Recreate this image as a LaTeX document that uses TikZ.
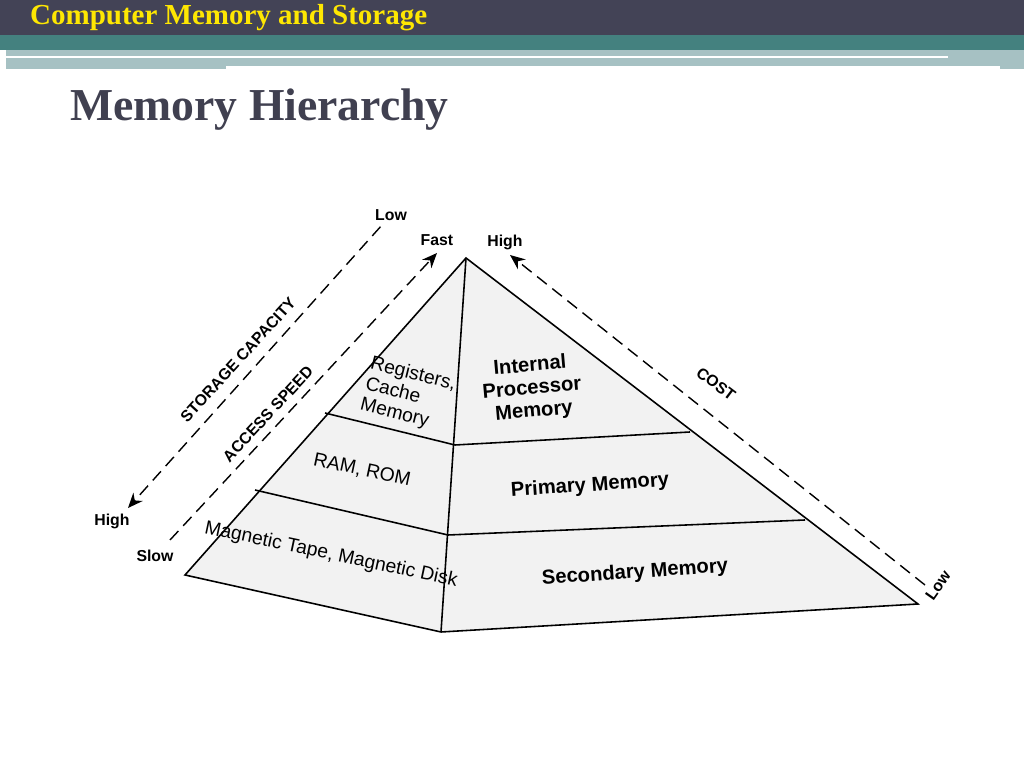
\documentclass[tikz,border=0pt]{standalone}
\usepackage{fontspec}
\setmainfont{Liberation Serif}
\newfontfamily\labelfont{Liberation Sans}
\usetikzlibrary{positioning}
\usetikzlibrary{arrows.meta}
\tikzset{>={Stealth[width=2.5mm,length=3mm]}}
\definecolor{headbar}{HTML}{434356}
\definecolor{bandteal}{HTML}{44817F}
\definecolor{paleteal}{HTML}{A6C1C3}
\definecolor{titlegray}{HTML}{404050}
\tikzset{
  face/.style={draw, line width=0.9pt, fill=gray!10},
  tier/.style={line width=0.9pt},
  guide/.style={dash pattern=on 7pt off 4pt, line width=0.8pt},
  lbl/.style={font=\labelfont\bfseries\small},
  tierlbl/.style={font=\labelfont\fontsize{11}{12}\selectfont, align=center, inner sep=1pt},
  tierbold/.style={tierlbl, font=\labelfont\bfseries\fontsize{11.5}{13}\selectfont}
}
\begin{document}
\begin{tikzpicture}[x=0.2mm,y=-0.2mm]
\useasboundingbox (0,0) rectangle (1024,768);
% header
\fill[headbar] (0,0) rectangle (1024,35);
\fill[bandteal] (0,35) rectangle (1024,50);
\fill[paleteal] (6,50) rectangle (1024,69);
\fill[white] (6,56) rectangle (948,58);
\fill[white] (226,66) rectangle (1000,69);
\node (head) [anchor=west, text=yellow!90!orange, font=\bfseries\fontsize{16.5}{19}\selectfont] at (24,18) {Computer Memory and Storage};
\node (title) [anchor=west, text=titlegray, font=\bfseries\fontsize{26}{31}\selectfont] at (64,110) {Memory Hierarchy};

% pyramid
\coordinate (apex) at (466,258);
\coordinate (L) at (185,575);
\coordinate (B) at (441,632);
\coordinate (R) at (918,604);
\coordinate (m1) at (455,445);
\coordinate (m2) at (448,535);
\coordinate (l1) at (325,413);
\coordinate (l2) at (255,490);
\coordinate (r1) at (690,432);
\coordinate (r2) at (805,520);
\path [face] (apex) -- (L) -- (B) -- (R) -- cycle;
\draw [tier] (apex) -- (B);
\draw [tier] (l1) -- (m1) -- (r1);
\draw [tier] (l2) -- (m2) -- (r2);

\node (reg) [tierlbl, rotate=-14, align=left] at (408,395) {Registers,\\Cache\\Memory};
\node (ram) [tierlbl, rotate=-12] at (362,470) {RAM, ROM};
\node (tape) [tierlbl, rotate=-12] at (331,555) {Magnetic Tape, Magnetic Disk};
\node (ipm) [tierbold, rotate=5] at (532,389) {Internal\\Processor\\Memory};
\node (prim) [tierbold, rotate=4] at (590,486) {Primary Memory};
\node (sec) [tierbold, rotate=4] at (635,573) {Secondary Memory};

% guides
\node (capLow) [lbl] at (391,215) {Low};
\node (capHigh) [lbl] at (112,521) {High};
\node (spdFast) [lbl] at (437,240) {Fast};
\node (spdSlow) [lbl] at (155,556) {Slow};
\node (costHigh) [lbl] at (505,242) {High};
\node (costLow) [lbl, rotate=55] at (938,585) {Low};
\coordinate (capTip) at (128,508);
\coordinate (spdTail) at (170,540);
\coordinate (spdTip) at (437,253);
\coordinate (costTail) at (925,585);
\coordinate (costTip) at (510,255);
\draw [guide, ->] (capLow) -- (capTip);
\draw [guide, ->] (spdTail) -- (spdTip);
\draw [guide, ->] (costTail) -- (costTip);
\node (cap) [lbl, rotate=47.5] at (238,360) {STORAGE CAPACITY};
\node (spd) [lbl, rotate=47] at (268,414) {ACCESS SPEED};
\node (cost) [lbl, rotate=-37] at (716,384) {COST};
\end{tikzpicture}
\end{document}
